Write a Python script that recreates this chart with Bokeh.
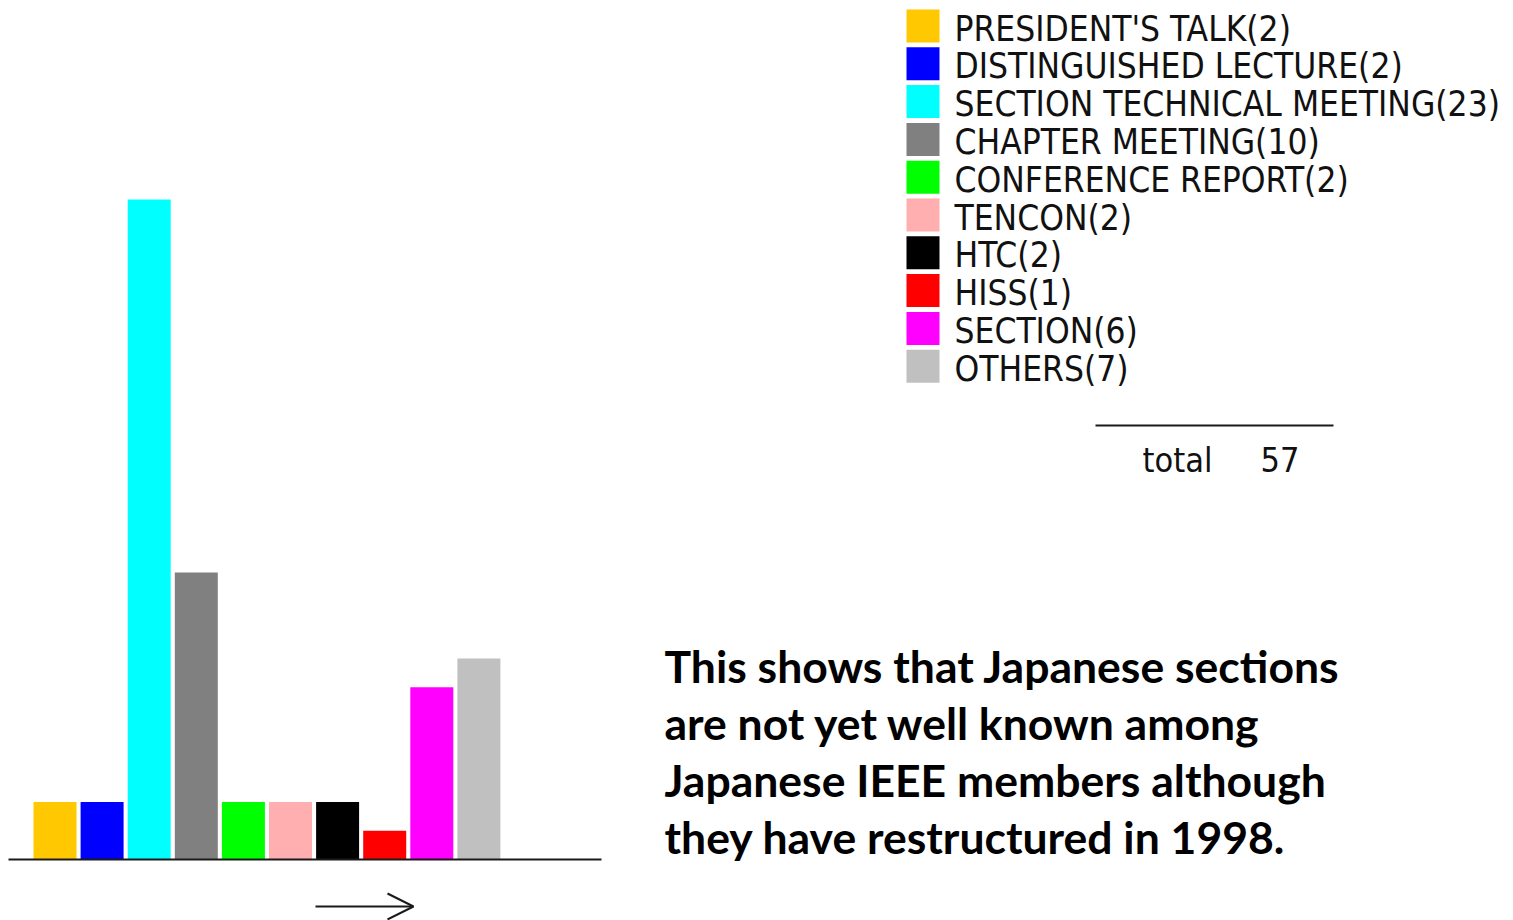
from bokeh.plotting import figure
from bokeh.models import Range1d, Arrow, OpenHead
from bokeh.core.properties import value
from bokeh.embed import file_html
from bokeh.resources import INLINE

# ---- data ----
categories = ["PRESIDENT'S TALK", "DISTINGUISHED LECTURE", "SECTION TECHNICAL MEETING",
              "CHAPTER MEETING", "CONFERENCE REPORT", "TENCON", "HTC", "HISS",
              "SECTION", "OTHERS"]
counts = [2, 2, 23, 10, 2, 2, 2, 1, 6, 7]
colors = ["#FFC800", "#0000FF", "#00FFFF", "#808080", "#00FF00",
          "#FFAFAF", "#000000", "#FF0000", "#FF00FF", "#C0C0C0"]
total_label = "total"
total_value = "57"
note_lines = [
    "This shows that Japanese sections",
    "are not yet well known  among",
    "Japanese IEEE members although",
    "they have restructured in 1998.",
]

# ---- layout (page pixels) ----
W, H = 1513, 920
PAGE = 0
BAR0_X = 54.5
BAR_PITCH = 47.1
BAR_W = 43
BASE_Y = 859
UNIT = 28.7

LEGEND_FONT = "DejaVu Sans Condensed, Liberation Sans Narrow, Liberation Sans"
NOTE_FONT = "Lato"


def dx(px):
    return (px - BAR0_X) / BAR_PITCH


def dy(py):
    return (BASE_Y - py) / UNIT


p = figure(width=W, height=H, output_backend="svg", toolbar_location=None,
           x_range=Range1d(dx(PAGE), dx(PAGE + W)),
           y_range=Range1d(dy(PAGE + H), dy(PAGE)),
           min_border=0, x_axis_location=None, y_axis_location=None,
           outline_line_color=None, background_fill_color="white",
           border_fill_color="white")
p.grid.visible = False

# bars
xs = list(range(len(counts)))
p.vbar(x=xs, top=counts, bottom=0, width=BAR_W / BAR_PITCH,
       fill_color=colors, line_color=None)

# baseline
p.segment(x0=[dx(8)], y0=[0], x1=[dx(601)], y1=[0], line_color="#1a1a1a", line_width=2)

# arrow
p.add_layout(Arrow(end=OpenHead(size=26, line_width=2, line_color="#1a1a1a"),
                   x_start=dx(315), y_start=dy(906), x_end=dx(413), y_end=dy(906),
                   line_width=2, line_color="#1a1a1a"))

# legend (manual)
n = len(categories)
row_c = [25.5 + 37.8 * i for i in range(n)]
p.rect(x=[dx(922.5)] * n, y=[dy(c) for c in row_c], width=33, height=33,
       width_units="screen", height_units="screen", fill_color=colors, line_color=None)
p.text(x=[dx(954)] * n, y=[dy(c + 2.5) for c in row_c],
       text=[f"{c}({v})" for c, v in zip(categories, counts)],
       text_font=value(LEGEND_FONT), text_font_size="35px",
       text_baseline="alphabetic", text_align="left", text_color="#111111")

# total
p.segment(x0=[dx(1095)], y0=[dy(425)], x1=[dx(1333)], y1=[dy(425)],
          line_color="#1a1a1a", line_width=2)
p.text(x=[dx(1142), dx(1260)], y=[dy(459), dy(459)], text=[total_label, total_value],
       text_font=value(LEGEND_FONT), text_font_size="34px",
       text_baseline="alphabetic", text_align="left", text_color="#111111")

# note
p.text(x=[dx(664)] * len(note_lines), y=[dy(665 + 57 * i) for i in range(len(note_lines))],
       text=note_lines, text_font=value(NOTE_FONT), text_font_style="bold",
       text_font_size="44.5px", text_baseline="alphabetic", text_align="left",
       text_color="black")

open("out.html", "w").write(file_html(p, INLINE))
